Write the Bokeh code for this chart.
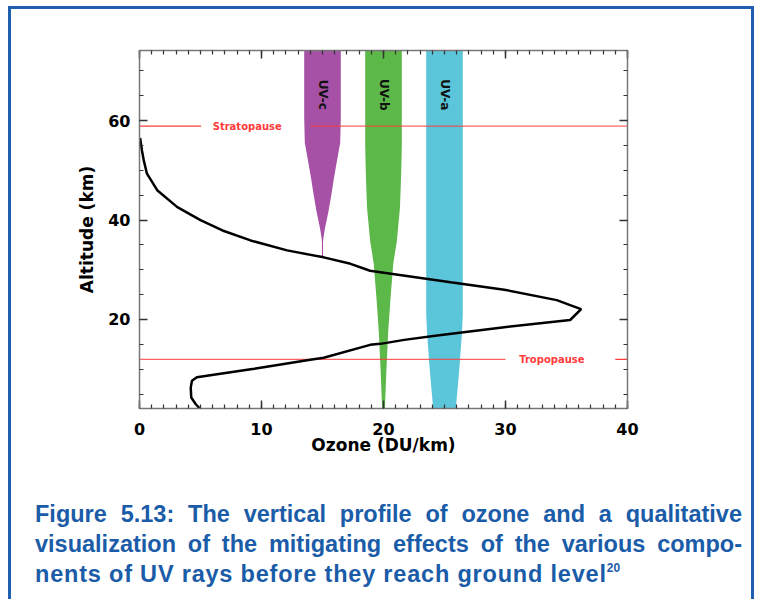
import math
from bokeh.plotting import figure
from bokeh.models import Range1d, LinearAxis, Div, CustomJSTickFormatter, SingleIntervalTicker
from bokeh.layouts import column
from bokeh.embed import file_html
from bokeh.resources import INLINE
from bokeh.core.properties import value

# ---------------- data ----------------
ozone = [0.05, 0.2, 0.35, 0.6, 1.45, 3.1, 5.0, 6.8, 9.1, 12.1, 15.1, 17.3, 18.9, 19.75,
         25.5, 29.9, 34.2, 35.3, 36.2, 35.3, 29.9, 24.4, 21.7, 19.75, 18.9, 15.1, 14.0,
         9.4, 4.7, 4.3, 4.2, 4.24, 4.6, 4.86, 5.0]
altitude = [56.5, 54.0, 52.0, 49.4, 46.0, 42.6, 40.0, 37.9, 35.9, 33.9, 32.5, 31.2, 29.8, 29.5,
            27.5, 26.0, 23.9, 22.9, 22.1, 19.9, 18.45, 16.8, 15.9, 15.1, 14.9, 12.3, 11.9,
            10.1, 8.4, 7.7, 6.3, 4.3, 3.0, 2.3, 2.1]

band_names = ["UV-c", "UV-b", "UV-a"]
band_centers = [15, 20, 25]
uvc_alt = [74.1, 60.5, 55.5, 51.6, 48.3, 45.0, 41.6, 38.3, 36.3, 35.5, 32.6]
uvc_half = [1.5, 1.5, 1.45, 1.16, 0.93, 0.72, 0.48, 0.2, 0.07, 0.045, 0.045]
uvb_alt = [74.1, 55.0, 49.4, 42.5, 35.9, 31.2, 24.4, 17.3, 10.5, 3.8, 2.1]
uvb_half = [1.5, 1.5, 1.45, 1.35, 1.1, 0.8, 0.58, 0.38, 0.25, 0.14, 0.12]
uva_alt = [74.1, 21.0, 17.3, 10.5, 2.1]
uva_half = [1.5, 1.5, 1.43, 1.23, 0.93]
band_alts = [uvc_alt, uvb_alt, uva_alt]
band_halves = [uvc_half, uvb_half, uva_half]
band_colors = ["#a650a6", "#5cb848", "#5bc6da"]

layer_names = ["Stratopause", "Tropopause"]
layer_alt = [58.9, 12.0]

x_ticks_interval = 10
y_ticks_interval = 20

# ---------------- figure ----------------
FONT = value("DejaVu Sans")
p = figure(width=740, height=466, x_range=Range1d(0, 40), y_range=Range1d(2.1, 74.1),
           output_backend="svg", toolbar_location=None,
           min_border_left=128, min_border_right=124, min_border_top=41, min_border_bottom=67,
           background_fill_color="white", border_fill_color="white")
p.xgrid.visible = False
p.ygrid.visible = False
p.outline_line_color = "#777777"

# bands
for alts, halves, c, col in zip(band_alts, band_halves, band_centers, band_colors):
    p.harea(y=alts, x1=[c - h for h in halves], x2=[c + h for h in halves],
            fill_color=col, fill_alpha=1.0)

# band labels
p.text(x=band_centers, y=[65.2] * 3, text=band_names, angle=-math.pi / 2,
       text_align="center", text_baseline="middle", text_font=FONT,
       text_font_style="bold", text_font_size="12px", text_color="#111111")

# boundary lines (red)
red = "#ff3b3b"
strat, trop = layer_alt
p.line(x=[0, 5.05], y=[strat, strat], line_color=red, line_width=1.3)
p.line(x=[14.0, 40], y=[strat, strat], line_color=red, line_width=1.3, line_alpha=0.8)
p.line(x=[0, 30.0], y=[trop, trop], line_color=red, line_width=1.3, line_alpha=0.8)
p.line(x=[39.0, 40], y=[trop, trop], line_color=red, line_width=1.3)
p.text(x=[8.83, 33.8], y=layer_alt, text=layer_names, text_align="center",
       text_baseline="middle", text_font=FONT, text_font_style="bold",
       text_font_size="10px", text_color=red)

# ozone profile
p.line(x=ozone, y=altitude, line_color="black", line_width=2.5)

# axes
def style_axis(ax):
    ax.major_tick_in = 8
    ax.major_tick_out = 0
    ax.minor_tick_in = 4
    ax.minor_tick_out = 0
    ax.axis_line_color = "#777777"
    ax.axis_line_width = 1.5
    ax.major_tick_line_color = "#333333"
    ax.minor_tick_line_color = "#333333"
    ax.major_tick_line_width = 1.5
    ax.minor_tick_line_width = 1.2

p.xaxis.ticker = SingleIntervalTicker(interval=x_ticks_interval, num_minor_ticks=10)
p.yaxis.ticker = SingleIntervalTicker(interval=y_ticks_interval, num_minor_ticks=4)
for ax in p.xaxis + p.yaxis:
    style_axis(ax)
    ax.major_label_text_font = "DejaVu Sans"
    ax.major_label_text_font_style = "bold"
    ax.major_label_text_font_size = "16px"
    ax.major_label_text_color = "black"
    ax.axis_label_text_font = "DejaVu Sans"
    ax.axis_label_text_font_style = "bold"
    ax.axis_label_text_font_size = "17px"
    ax.axis_label_text_color = "black"
p.xaxis.axis_label = "Ozone (DU/km)"
p.yaxis.axis_label = "Altitude (km)"
p.xaxis.major_label_standoff = 14
p.xaxis.axis_label_standoff = -3
p.yaxis.major_label_standoff = 9
p.yaxis.axis_label_standoff = 8

blank = CustomJSTickFormatter(code="return ''")
top = LinearAxis(ticker=SingleIntervalTicker(interval=x_ticks_interval, num_minor_ticks=10),
                 formatter=blank, major_label_standoff=0)
right = LinearAxis(ticker=SingleIntervalTicker(interval=y_ticks_interval, num_minor_ticks=4),
                   formatter=blank, major_label_standoff=0)
style_axis(top)
style_axis(right)
p.add_layout(top, "above")
p.add_layout(right, "right")

# caption
line_style = "white-space:nowrap;text-align:justify;text-align-last:justify;height:30px;"
cap_html = (
    '<div style="font-family:\'Liberation Sans\',Arial,sans-serif;'
    'font-weight:bold;font-size:23.5px;line-height:30px;color:#1a5ca8;'
    'padding:19px 0 0 19px;width:707px;">'
    f'<div style="{line_style}">Figure 5.13: The vertical profile of ozone and a qualitative</div>'
    f'<div style="{line_style}">visualization of the mitigating effects of the various compo-</div>'
    '<div style="white-space:nowrap;letter-spacing:0.8px;height:30px;">nents of UV rays before they reach ground level'
    '<span style="font-size:12px;letter-spacing:0;line-height:0;position:relative;top:-10px;">20</span></div>'
    '</div>'
)
cap = Div(text=cap_html, width=740, height=120)

layout = column(p, cap, styles={"margin-left": "8px", "margin-top": "6px",
                                "border-top": "3px solid #1f5fae",
                                "border-left": "3px solid #1f5fae",
                                "border-right": "3px solid #1f5fae",
                                "background-color": "white",
                                "box-sizing": "content-box",
                                "width": "740px"})

open("out.html", "w").write(file_html(layout, INLINE))
